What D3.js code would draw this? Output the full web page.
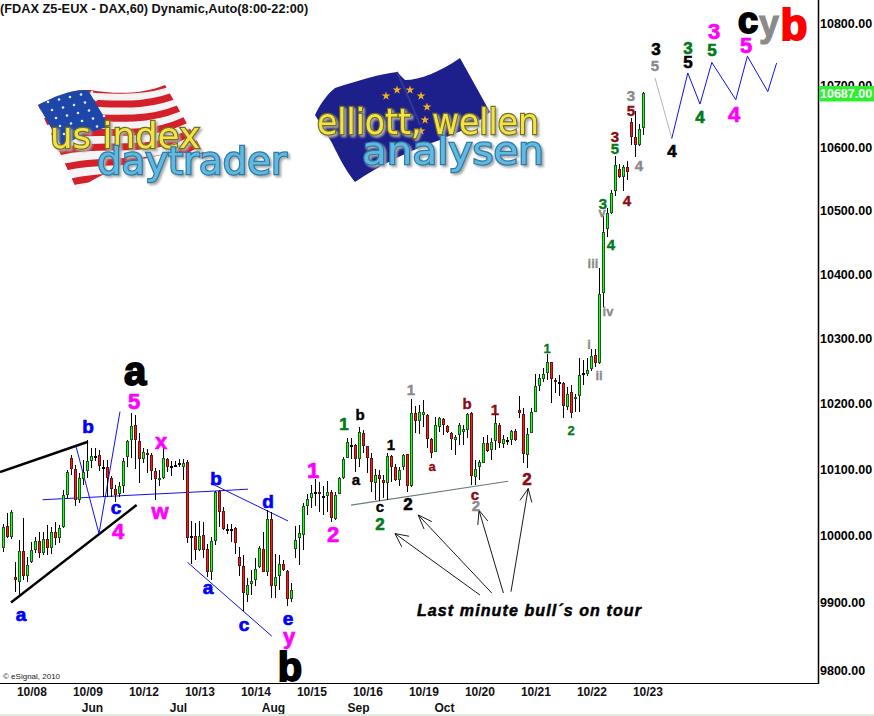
<!DOCTYPE html>
<html>
<head>
<meta charset="utf-8">
<script src="https://cdn.jsdelivr.net/npm/d3@7"></script>
<style>
  html, body { margin: 0; padding: 0; background: #fff; overflow: hidden; }
  text { font-family: "Liberation Sans", Arial, sans-serif; }
</style>
</head>
<body>
<svg id="chart" width="874" height="716"></svg>
<script>
// hourly candles, 161 bars
const opens = [
  9982,10014,9998,9938,9931,9977,9939,9960,9978,9992,
  9974,9995,9982,10005,9997,10013,10061,10118,10100,10054,
  10085,10098,10112,10121,10122,10104,10104,10087,10071,10063,
  10075,10119,10144,10168,10143,10116,10125,10122,10098,10085,
  10087,10116,10105,10107,10109,10104,10111,9999,9999,9978,
  10001,9980,9946,9992,10067,10037,10010,10010,10011,9968,
  9955,9911,9928,9933,9953,9980,9946,10025,9925,9940,
  9957,9947,9905,9980,9996,10001,10045,10056,10066,10066,
  10060,10059,10066,10025,10063,10087,10118,10137,10137,10115,
  10155,10135,10118,10080,10091,10084,10080,10120,10103,10084,
  10104,10123,10075,10186,10174,10183,10183,10146,10127,10165,
  10177,10166,10155,10145,10152,10157,10160,10186,10089,10103,
  10110,10140,10130,10143,10168,10139,10144,10144,10159,10190,
  10184,10122,10156,10188,10228,10238,10247,10264,10237,10234,
  10232,10195,10218,10207,10212,10247,10246,10253,10275,10262,
  10371,10471,10496,10532,10566,10554,10570,10641,10618,10604,
  10631];
const highs = [
  10018,10034,10038,9960,9993,10027,9968,9990,9998,10005,
  10006,10016,10013,10021,10016,10069,10099,10122,10107,10095,
  10114,10145,10133,10133,10130,10114,10114,10090,10076,10081,
  10118,10145,10186,10183,10155,10133,10131,10125,10102,10099,
  10135,10117,10113,10113,10115,10115,10114,10022,10019,10022,
  10021,9987,9998,10067,10069,10043,10018,10018,10013,9983,
  9971,9937,9949,9967,9985,10006,10039,10036,9973,9971,
  9964,9949,9929,10015,10016,10049,10063,10076,10085,10081,
  10075,10082,10069,10066,10088,10119,10148,10147,10139,10164,
  10160,10136,10125,10101,10099,10091,10125,10122,10108,10104,
  10123,10124,10207,10196,10198,10206,10184,10148,10180,10180,
  10178,10168,10157,10152,10170,10168,10186,10187,10114,10114,
  10150,10152,10147,10183,10170,10152,10150,10160,10161,10212,
  10193,10163,10193,10246,10246,10255,10277,10265,10239,10244,
  10233,10226,10229,10215,10270,10268,10271,10284,10284,10410,
  10492,10504,10533,10587,10574,10573,10579,10648,10659,10638,
  10689];
const lows = [
  9976,9996,9995,9916,9909,9934,9931,9959,9974,9967,
  9971,9971,9973,9986,9989,10011,10057,10091,10044,10049,
  10076,10087,10102,10113,10098,10058,10058,10058,10051,10058,
  10064,10104,10117,10100,10080,10110,10095,10084,10053,10075,
  10085,10096,10090,10103,10103,10084,9989,9958,9964,9977,
  9967,9938,9934,9986,10013,10008,10003,9991,9973,9940,
  9887,9900,9911,9924,9952,9945,9939,9907,9907,9919,
  9947,9894,9900,9967,9956,9978,10031,10042,10044,10036,
  10031,10036,10020,10024,10062,10086,10117,10115,10096,10103,
  10125,10094,10066,10054,10052,10056,10054,10081,10083,10075,
  10099,10065,10073,10155,10154,10165,10133,10117,10126,10157,
  10152,10155,10129,10122,10137,10137,10147,10076,10076,10084,
  10109,10127,10114,10130,10132,10132,10137,10137,10143,10178,
  10109,10102,10155,10187,10220,10234,10237,10202,10216,10212,
  10179,10190,10179,10188,10188,10229,10243,10250,10256,10261,
  10350,10459,10495,10524,10552,10532,10549,10605,10585,10603,
  10620];
const closes = [
  10013,9998,10036,9933,9977,9940,9956,9979,9992,9974,
  9995,9982,10006,9996,10011,10061,10096,10100,10053,10087,
  10096,10112,10120,10121,10105,10104,10087,10070,10061,10075,
  10112,10143,10166,10144,10116,10126,10123,10098,10085,10087,
  10117,10103,10105,10107,10109,10110,9997,9999,9978,9999,
  9979,9946,9992,10066,10036,10010,10010,10010,9989,9955,
  9914,9926,9932,9950,9982,9946,10025,9924,9938,9957,
  9948,9905,9918,9994,10004,10045,10055,10064,10066,10062,
  10060,10066,10027,10061,10087,10115,10142,10137,10115,10157,
  10136,10118,10081,10091,10085,10080,10121,10104,10084,10099,
  10122,10075,10186,10174,10187,10188,10146,10125,10168,10178,
  10167,10157,10146,10149,10168,10161,10185,10090,10100,10111,
  10140,10128,10142,10170,10140,10146,10144,10159,10145,10186,
  10123,10154,10187,10227,10239,10246,10264,10238,10233,10234,
  10196,10215,10186,10210,10244,10247,10252,10274,10263,10370,
  10467,10496,10528,10572,10553,10569,10561,10618,10604,10630,
  10687];

const priceTicks = [9800,9900,10000,10100,10200,10300,10400,10500,10600,10700,10800];
const lastPrice = 10687;
const dateBars = [7,21,35,49,63,77,91,105,119,133,147,161];
const dateLabels = ["10/08","10/09","10/12","10/13","10/14","10/15","10/16","10/19","10/20","10/21","10/22","10/23"];
const monthBars = [22.15,43.65,67.4,88.65,110.15];
const monthLabels = ["Jun","Jul","Aug","Sep","Oct"];

// drawn lines, as [bar, price] pairs
const upperChannel = [[-0.85,10096],[21.15,10142]];
const lowerChannel = [[1.9,9900],[33.3,10046]];
const blueV = [[18.15,10135],[23.9,10003],[29.15,10188]];
const blueFlat = [[9.8,10054],[29.15,10060],[52.4,10067],[61.15,10070]];
const blueWedgeTop = [[51.8,10079],[71.15,10022]];
const blueWedgeLow = [[46,9960],[67.1,9850]];
const graySupport = [[86.9,10046],[126.2,10082]];
const projGray = [[162.9,10712],[167.1,10615]];
const projBlue = [[167.1,10615],[171.1,10720],[174.15,10670],[177.1,10737],[183.1,10677],[186,10747],[191.1,10690],[193.3,10736]];
const arrows = [
  {tail:[119.15,9911], tip:[97.9,10003], barbs:[[99.6,9983],[101.4,9999]]},
  {tail:[122.1,9914], tip:[103.7,10031], barbs:[[105.15,10010],[107.1,10021]]},
  {tail:[125,9914], tip:[118.9,10038], barbs:[[118.6,10016],[121.1,10022]]},
  {tail:[126.9,9916], tip:[131.2,10071], barbs:[[129.15,10053],[132.1,10050]]}
];

// wave counts: text, bar, price, colour key, size key
const waveLabels = [
  ["a",32.9,10251,"black","huge"],["b",71.65,9804,"black","huge"],
  ["c",186.15,10805,"black","cap"],["y",191.4,10800,"gray","capThin"],["b",197.65,10798,"red","giant"],
  ["5",32.65,10204,"magenta","big"],["4",28.65,10007,"magenta","big"],["x",39.4,10143,"magenta","big"],
  ["w",39.15,10037,"magenta","big"],["y",71.4,9850,"magenta","big"],["1",77.4,10099,"magenta","big"],
  ["2",82.4,10002,"magenta","big"],["3",177.65,10787,"magenta","big"],["5",185.65,10764,"magenta","big"],
  ["4",182.65,10654,"magenta","big"],
  ["b",21.15,10166,"blue","bluish"],["a",4.4,9883,"blue","bluish"],["c",28.15,10043,"blue","bluish"],
  ["b",53.15,10087,"blue","bluish"],["d",66.15,10052,"blue","bluish"],["a",51.15,9922,"blue","bluish"],
  ["c",60.15,9867,"blue","bluish"],["e",71.15,9876,"blue","bluish"],
  ["1",85.15,10169,"green","mid"],["2",94.15,10018,"green","mid"],
  ["b",89.15,10184,"black","small"],["a",88.15,10085,"black","small"],["c",94.15,10043,"black","small"],
  ["1",96.9,10137,"black","small"],["2",101.15,10048,"black","mid"],
  ["1",101.9,10221,"gray","small"],["a",107.15,10104,"brown","tiny"],["b",115.9,10200,"brown","small"],
  ["1",122.9,10191,"brown","small"],["c",117.9,10061,"brown","small"],["2",118.15,10045,"gray","small"],
  ["2",130.9,10085,"brown","mid"],["2",141.9,10159,"green","tiny"],["1",135.9,10286,"green","tiny"],
  ["i",146.4,10292,"gray","tiny"],["ii",148.9,10243,"gray","tiny"],["iii",147.4,10417,"gray","tiny"],
  ["iv",151.15,10342,"gray","tiny"],["v",149.65,10497,"gray","tiny"],
  ["3",149.9,10511,"green","small"],["4",151.9,10446,"green","small"],["5",152.9,10598,"green","small"],
  ["3",152.9,10618,"brown","small"],["4",155.9,10516,"brown","small"],["5",156.9,10660,"brown","small"],
  ["3",156.9,10683,"gray","small"],["4",158.9,10571,"gray","small"],
  ["3",163.15,10759,"black","mid"],["5",162.9,10731,"gray","small"],["5",171.15,10737,"black","mid"],
  ["3",171.15,10761,"green","mid"],["5",177.15,10757,"green","mid"],["4",167.15,10595,"black","mid"],
  ["4",174.15,10649,"green","mid"]
];
const labelColors = {black:"#000",gray:"#8a8a8a",red:"#ff0000",magenta:"#ff00ff",blue:"#0000ff",green:"#007a1a",brown:"#8b0a14"};
const labelSizes = {giant:[44,2],huge:[40,1.8],cap:[36,2],capThin:[36,1],big:[22,0.7],bluish:[19,0.7],mid:[17,0.6],small:[15,0.4],tiny:[13,0.3]};

const width = 874;
const height = 716;
const svg = d3.select("#chart");

const x = d3.scaleLinear().domain([0,203.5]).range([3.4,817.4]);
const y = d3.scaleLog().domain([9800,10800]).range([670,23.5]);
const lineGen = d3.line().x(d => x(d[0])).y(d => y(d[1]));

function drawLogos(g){
  // us index daytrader
  const a = g.append("g");
  const flagPath = "M38,105 C55,96 72,89 90,90 C115,94 140,95 165,85 L205,155 C175,150 130,155 77,190 Z";
  a.append("clipPath").attr("id","flagClip").append("path").attr("d",flagPath);
  a.append("path").attr("d",flagPath).attr("fill","#f4f4f4");
  const stripes = a.append("g").attr("clip-path","url(#flagClip)");
  d3.range(8).forEach(k => {
    stripes.append("path")
      .attr("d",`M${30+7*k},${92+15*k} C${80+7*k},${80+15*k} ${125+7*k},${102+14*k} ${178+5*k},${80+12*k}`)
      .attr("fill","none").attr("stroke","#d3202a").attr("stroke-width",7);
  });
  a.append("path").attr("d","M38,105 C55,96 72,89 88,90 L110,127 C92,130 75,138 62,147 Z").attr("fill","#1d46a8");
  d3.range(5).forEach(r => d3.range(5).forEach(c => {
    a.append("circle").attr("cx",48+c*11+r*4).attr("cy",102+r*8-c*2.5).attr("r",1.3).attr("fill","#dfe8ff");
  }));
  const logoText = (p,t,px,py,len,size,fill,line) => {
    p.append("text").attr("x",px).attr("y",py).text(t).attr("font-size",size).attr("textLength",len)
      .attr("lengthAdjust","spacingAndGlyphs").style("font-family","DejaVu Sans")
      .style("filter","drop-shadow(2px 2px 1px #aaa)")
      .attr("fill",fill).attr("stroke",line).attr("stroke-width",2.4).attr("paint-order","stroke");
  };
  logoText(a,"us index",50,148,150,36,"#f3e34b","#77701a");
  logoText(a,"daytrader",97,174,190,38,"#63b8e0","#2b7da8");

  // elliott wellen analysen
  const b = g.append("g");
  b.append("path").attr("d","M315,115 C322,100 330,92 335,88 C360,80 380,74 397,72 L405,80 C420,80 440,72 460,58 L490,112 C470,130 450,135 440,140 C410,150 380,165 355,182 C345,170 338,155 332,143 Z")
    .attr("fill","#1d1f8a");
  b.append("path").attr("d","M397,72 C405,90 412,105 420,125").attr("fill","none").attr("stroke","#34369c").attr("stroke-width",2);
  const star = d3.symbol(d3.symbolStar, 24);
  [[386,96],[397,90],[410,90],[421,96],[427,107],[425,120],[421,131]].forEach(s => {
    b.append("path").attr("transform",`translate(${s[0]},${s[1]})`).attr("d",star).attr("fill","#f0b020");
  });
  logoText(b,"elliott, wellen",317,134,222,36,"#f3e34b","#77701a");
  logoText(b,"analysen",362,164,182,38,"#63b8e0","#2b7da8");
}
drawLogos(svg.append("g"));

// trend lines
const lines = svg.append("g").attr("fill","none");
[[upperChannel,"#000",2.4],[lowerChannel,"#000",2.4],[blueV,"#1010ee",1],[blueFlat,"#1010ee",1],
 [blueWedgeTop,"#1010ee",1],[blueWedgeLow,"#1010ee",1],[graySupport,"#6c7c78",1.2],
 [projGray,"#b4b4b4",1],[projBlue,"#1010ee",1]].forEach(l => {
  lines.append("path").attr("d",lineGen(l[0])).attr("stroke",l[1]).attr("stroke-width",l[2]);
});

// candles
const bars = d3.range(opens.length);
const px = i => Math.round(x(i));
const isUp = i => closes[i] > opens[i];
const candles = svg.append("g").attr("shape-rendering","crispEdges");
candles.selectAll("rect.wick").data(bars).join("rect")
  .attr("class","wick")
  .attr("x",i => px(i))
  .attr("width",1)
  .attr("y",i => y(highs[i]))
  .attr("height",i => y(lows[i]) - y(highs[i]))
  .attr("fill","#000");
const bodyTop = i => Math.round(y(Math.max(opens[i],closes[i])));
const bodyH = i => Math.max(2, Math.round(y(Math.min(opens[i],closes[i]))) - bodyTop(i));
const solid = bars.filter(i => opens[i] !== closes[i]);
candles.selectAll("rect.doji").data(bars.filter(i => opens[i] === closes[i])).join("rect")
  .attr("class","doji")
  .attr("x",i => px(i) - 1)
  .attr("width",3)
  .attr("y",bodyTop)
  .attr("height",2)
  .attr("fill","#000");
candles.selectAll("rect.edge").data(solid).join("rect")
  .attr("class","edge")
  .attr("x",i => px(i) - 1)
  .attr("width",3)
  .attr("y",bodyTop)
  .attr("height",bodyH)
  .attr("fill",i => isUp(i) ? "#155c15" : "#6a1010");
candles.selectAll("rect.core").data(solid.filter(i => bodyH(i) > 2)).join("rect")
  .attr("class","core")
  .attr("x",i => px(i))
  .attr("width",1)
  .attr("y",i => bodyTop(i) + 1)
  .attr("height",i => bodyH(i) - 2)
  .attr("fill",i => isUp(i) ? "#22ff22" : "#ff1c1c");

// arrows
const arrowG = svg.append("g").attr("fill","none").attr("stroke","#000").attr("stroke-width",0.9);
arrows.forEach(a => {
  arrowG.append("path").attr("d",lineGen([a.tail,a.tip]));
  arrowG.append("path").attr("d",lineGen([a.barbs[0],a.tip,a.barbs[1]]));
});

// wave counts
svg.append("g").attr("text-anchor","middle").selectAll("text").data(waveLabels).join("text")
  .attr("x",d => x(d[1]))
  .attr("y",d => y(d[2]))
  .attr("dy","0.35em")
  .attr("font-weight","bold")
  .attr("font-size",d => labelSizes[d[4]][0])
  .attr("fill",d => labelColors[d[3]])
  .attr("stroke",d => labelColors[d[3]])
  .attr("stroke-width",d => labelSizes[d[4]][1])
  .text(d => d[0]);

svg.append("text").attr("x",417).attr("y",616)
  .attr("font-size",16).attr("font-weight","bold").attr("font-style","italic")
  .attr("letter-spacing",1.1).attr("stroke","#000").attr("stroke-width",0.5)
  .text("Last minute bull\u00b4s on tour");

svg.append("text").attr("x",0).attr("y",13)
  .attr("font-size",12.75).attr("font-weight","bold").attr("fill","#111")
  .text("(FDAX Z5-EUX - DAX,60) Dynamic,Auto(8:00-22:00)");

svg.append("text").attr("x",3).attr("y",679)
  .attr("font-size",8).attr("fill","#222")
  .text("\u00a9 eSignal, 2010");

// axes
const yAxis = g => g
  .attr("transform",`translate(818,0)`)
  .call(d3.axisRight(y).tickValues(priceTicks).tickFormat(d3.format(".2f")).tickSize(0).tickPadding(2))
  .call(g => g.select(".domain").remove())
  .call(g => g.selectAll("text").attr("font-size",12.5).attr("font-weight","bold").attr("fill","#000").style("font-family","Liberation Sans"));

const xAxis = g => g
  .attr("transform",`translate(0,684)`)
  .call(d3.axisBottom(x).tickValues(dateBars).tickFormat((d,i) => dateLabels[i]).tickSize(0).tickPadding(3))
  .call(g => g.select(".domain").remove())
  .call(g => g.selectAll("text").attr("font-size",12).attr("font-weight","bold").attr("fill","#111").style("font-family","Liberation Sans"));

const monthAxis = g => g
  .attr("transform",`translate(0,700)`)
  .call(d3.axisBottom(x).tickValues(monthBars).tickFormat((d,i) => monthLabels[i]).tickSize(0).tickPadding(3))
  .call(g => g.select(".domain").remove())
  .call(g => g.selectAll("text").attr("font-size",12).attr("font-weight","bold").attr("fill","#111").style("font-family","Liberation Sans"));

svg.append("g").call(yAxis);
svg.append("g").call(xAxis);
svg.append("g").call(monthAxis);

svg.append("line").attr("x1",0).attr("x2",818.5).attr("y1",683.5).attr("y2",683.5).attr("stroke","#000").attr("stroke-width",1);
svg.append("line").attr("x1",818.5).attr("x2",818.5).attr("y1",0).attr("y2",684).attr("stroke","#000").attr("stroke-width",1.5);
svg.append("rect").attr("x",0).attr("y",714).attr("width",width).attr("height",height - 714).attr("fill","#e4eae4");

// last price tag
const tag = svg.append("g").attr("transform",`translate(0,${y(lastPrice)})`);
tag.append("rect").attr("x",819).attr("y",-7.5).attr("width",55).attr("height",15.5).attr("fill","#2bf02b");
tag.append("text").attr("x",820).attr("dy","0.35em").attr("font-size",12.5).attr("font-weight","bold").attr("fill","#fff")
  .text(d3.format(".2f")(lastPrice));
</script>
</body>
</html>
